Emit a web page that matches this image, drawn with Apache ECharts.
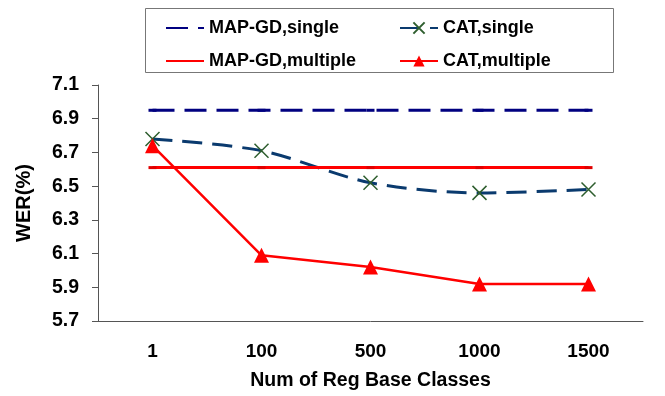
<!DOCTYPE html>
<html>
<head>
<meta charset="utf-8">
<script src="https://cdn.jsdelivr.net/npm/echarts@6/dist/echarts.min.js"></script>
<style>
  html, body { margin: 0; padding: 0; background: #fff; }
  #chart { width: 665px; height: 396px; }
</style>
</head>
<body>
<div id="chart"></div>
<script>
var categories = ['1', '100', '500', '1000', '1500'];
var mapgdSingle = [6.95, 6.95, 6.95, 6.95, 6.95];
var catSingle = [6.78, 6.71, 6.52, 6.46, 6.48];
var mapgdMultiple = [6.61, 6.61, 6.61, 6.61, 6.61];
var catMultiple = [6.74, 6.09, 6.02, 5.92, 5.92];

var font = 'Liberation Sans, Arial, sans-serif';
var myChart = echarts.init(document.getElementById('chart'));
var legendText = { fontFamily: font, fontWeight: 'bold', fontSize: 18, color: '#000' };

option = {
    animation: false,
    graphic: [{
        type: 'rect',
        shape: { x: 145.5, y: 8.5, width: 468, height: 64 },
        style: { fill: '#fff', stroke: '#777', lineWidth: 1 }
    }],
    legend: [{
        data: [
            { name: 'MAP-GD,single', itemStyle: { opacity: 0 } },
            { name: 'MAP-GD,multiple', itemStyle: { opacity: 0 } }
        ],
        orient: 'vertical',
        left: 160, top: 14,
        itemWidth: 38, itemHeight: 14, itemGap: 15,
        textStyle: legendText
    }, {
        data: ['CAT,single', 'CAT,multiple'],
        orient: 'vertical',
        left: 394, top: 14,
        itemWidth: 38, itemHeight: 14, itemGap: 15,
        textStyle: legendText
    }],
    grid: { left: 98, right: 22, top: 85, bottom: 73 },
    xAxis: {
        type: 'category',
        data: categories,
        boundaryGap: true,
        name: 'Num of Reg Base Classes',
        nameLocation: 'middle',
        nameGap: 50,
        nameTextStyle: { fontFamily: font, fontWeight: 'bold', fontSize: 19.5, color: '#000' },
        axisLine: { lineStyle: { color: '#555', width: 1 } },
        axisTick: { length: 6, lineStyle: { color: '#555' } },
        axisLabel: { margin: 21, fontFamily: font, fontWeight: 'bold', fontSize: 19, color: '#000' }
    },
    yAxis: {
        type: 'value',
        min: 5.7, max: 7.1, interval: 0.2,
        name: 'WER(%)',
        nameLocation: 'middle',
        nameGap: 64,
        nameTextStyle: { fontFamily: font, fontWeight: 'bold', fontSize: 20, color: '#000' },
        axisLine: { show: true, lineStyle: { color: '#555', width: 1 } },
        axisTick: { show: true, length: 6, lineStyle: { color: '#555' } },
        splitLine: { show: false },
        axisLabel: {
            margin: 19, fontFamily: font, fontWeight: 'bold', fontSize: 19.5, color: '#000',
            formatter: function (v) { return v.toFixed(1); }
        }
    },
    series: [{
        name: 'MAP-GD,single',
        type: 'line',
        data: mapgdSingle,
        symbol: 'rect',
        symbolSize: [8, 3],
        lineStyle: { color: '#000080', width: 3, type: [22, 10] },
        itemStyle: { color: '#000080' }
    }, {
        name: 'CAT,single',
        type: 'line',
        data: catSingle,
        smooth: 0.3,
        symbol: 'path://M0,0L10,10M10,0L0,10',
        symbolSize: 14,
        lineStyle: { color: '#0a3a6e', width: 3, type: [20, 10] },
        itemStyle: { color: 'rgba(0,0,0,0)', borderColor: '#2e5e2e', borderWidth: 1.5 }
    }, {
        name: 'MAP-GD,multiple',
        type: 'line',
        data: mapgdMultiple,
        symbol: 'rect',
        symbolSize: [8, 3],
        lineStyle: { color: '#ff0000', width: 3 },
        itemStyle: { color: '#e00000' }
    }, {
        name: 'CAT,multiple',
        type: 'line',
        data: catMultiple,
        symbol: 'triangle',
        symbolSize: 15,
        lineStyle: { color: '#ff0000', width: 2.5 },
        itemStyle: { color: '#ff0000' }
    }]
};
myChart.setOption(option);
</script>
</body>
</html>
